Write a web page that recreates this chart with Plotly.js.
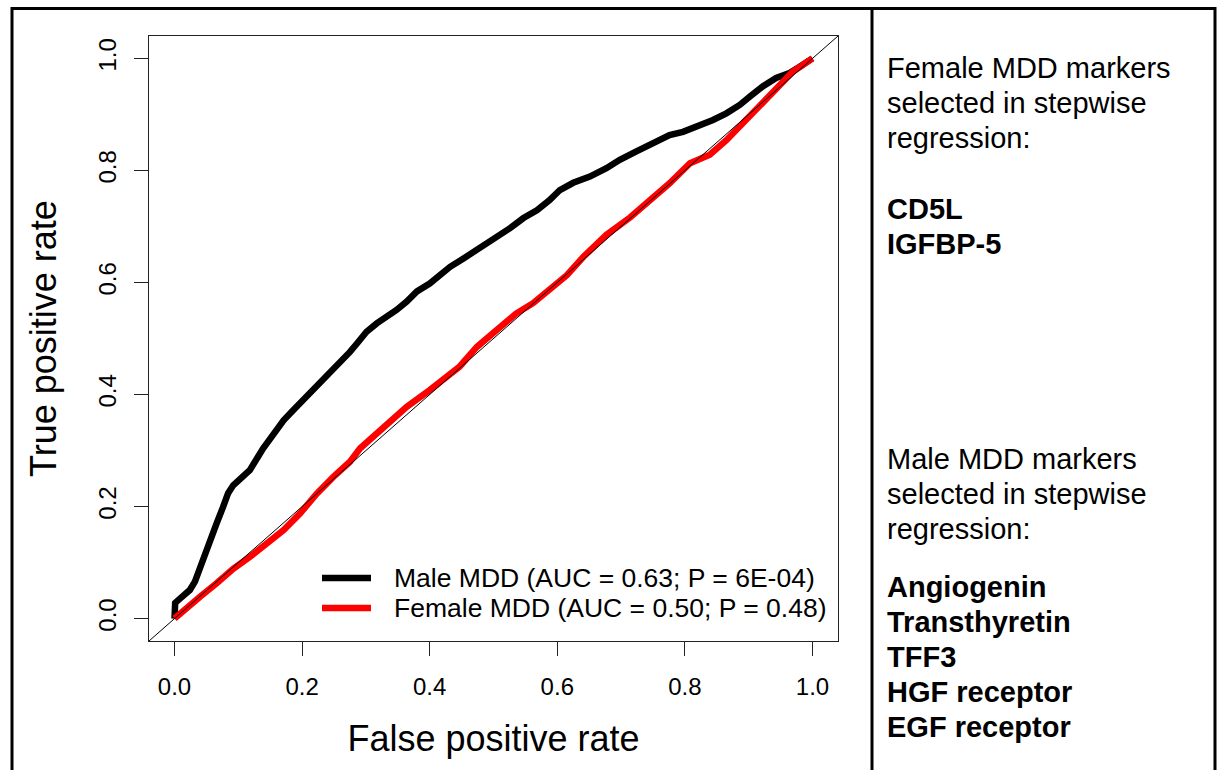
<!DOCTYPE html>
<html>
<head>
<meta charset="utf-8">
<script src="https://cdn.plot.ly/plotly-3.0.1.min.js"></script>
<style>html,body{margin:0;padding:0;background:#fff;}#chart{width:1220px;height:770px;}</style>
</head>
<body>
<div id="chart"></div>
<script>
// ---- data ----
const maleName = "Male MDD (AUC = 0.63; P = 6E-04)";
const femaleName = "Female MDD (AUC = 0.50; P = 0.48)";
const maleFpr = [0, 0, 0.001, 0.009, 0.024, 0.032, 0.040, 0.048, 0.056, 0.066, 0.076, 0.084, 0.092, 0.105, 0.118, 0.139, 0.155, 0.171, 0.186, 0.202, 0.223, 0.244, 0.259, 0.275, 0.286, 0.301, 0.317, 0.333, 0.348, 0.364, 0.380, 0.400, 0.416, 0.432, 0.453, 0.474, 0.500, 0.526, 0.547, 0.568, 0.588, 0.604, 0.625, 0.651, 0.677, 0.698, 0.724, 0.750, 0.776, 0.797, 0.818, 0.844, 0.865, 0.886, 0.902, 0.922, 0.943, 0.964, 0.980, 1.0];
const maleTpr = [0, 0.020, 0.028, 0.036, 0.051, 0.066, 0.092, 0.117, 0.140, 0.170, 0.199, 0.224, 0.238, 0.251, 0.265, 0.304, 0.331, 0.354, 0.372, 0.390, 0.414, 0.441, 0.456, 0.476, 0.491, 0.512, 0.527, 0.539, 0.551, 0.566, 0.584, 0.598, 0.613, 0.628, 0.643, 0.658, 0.679, 0.697, 0.715, 0.729, 0.747, 0.765, 0.778, 0.789, 0.804, 0.819, 0.834, 0.849, 0.863, 0.869, 0.878, 0.890, 0.902, 0.917, 0.932, 0.950, 0.965, 0.974, 0.985, 1.0];
const femaleFpr = [0, 0.014, 0.040, 0.066, 0.092, 0.118, 0.145, 0.171, 0.197, 0.223, 0.249, 0.275, 0.291, 0.327, 0.364, 0.400, 0.432, 0.447, 0.474, 0.510, 0.536, 0.562, 0.588, 0.615, 0.641, 0.677, 0.714, 0.745, 0.776, 0.808, 0.839, 0.865, 0.891, 0.917, 0.943, 0.969, 1.0];
const femaleTpr = [0, 0.015, 0.039, 0.063, 0.089, 0.110, 0.134, 0.158, 0.188, 0.223, 0.253, 0.280, 0.304, 0.342, 0.378, 0.408, 0.435, 0.450, 0.485, 0.521, 0.545, 0.563, 0.587, 0.613, 0.646, 0.685, 0.716, 0.745, 0.777, 0.813, 0.828, 0.854, 0.884, 0.914, 0.944, 0.976, 1.0];
const tickVals = [0, 0.2, 0.4, 0.6, 0.8, 1.0];
const tickText = ["0.0", "0.2", "0.4", "0.6", "0.8", "1.0"];
const femaleHeader = ["Female MDD markers", "selected in stepwise", "regression:"];
const femaleMarkers = ["CD5L", "IGFBP-5"];
const maleHeader = ["Male MDD markers", "selected in stepwise", "regression:"];
const maleMarkers = ["Angiogenin", "Transthyretin", "TFF3", "HGF receptor", "EGF receptor"];

// ---- layout geometry (pixels) ----
const W = 1220, H = 770;
const M = {l: 149, r: 382, t: 36, b: 129};
const PW = W - M.l - M.r, PH = H - M.t - M.b;
const px2x = px => (px - M.l) / PW;
const py2y = py => (H - M.b - py) / PH;
const FONT = "Liberation Sans, Arial, Helvetica, sans-serif";
const LINE_GAP = 35;

const traces = [
  {x: maleFpr, y: maleTpr, type: "scatter", mode: "lines", name: maleName,
   line: {color: "#000000", width: 6.5}, showlegend: false},
  {x: femaleFpr, y: femaleTpr, type: "scatter", mode: "lines", name: femaleName,
   line: {color: "#ff0000", width: 6.5}, showlegend: false}
];

const axisCommon = {
  range: [-0.04, 1.04], showgrid: false, zeroline: false,
  showline: true, mirror: true, linecolor: "#222", linewidth: 1,
  ticks: "outside", ticklen: 14, tickwidth: 1, tickcolor: "#222",
  tickvals: tickVals, ticktext: tickText,
  tickfont: {family: FONT, size: 24, color: "#000"}
};

// text panel on the right: one annotation per line
const textX = px2x(885);
const annotations = [];
function addBlock(lines, firstCenterPx, bold) {
  lines.forEach((t, i) => {
    annotations.push({
      text: bold ? "<b>" + t + "</b>" : t,
      x: textX, y: py2y(firstCenterPx + i * LINE_GAP),
      xref: "paper", yref: "paper", xanchor: "left", yanchor: "middle",
      align: "left", showarrow: false,
      font: {family: FONT, size: 29, color: "#000"}
    });
  });
}
addBlock(femaleHeader, 68, false);
addBlock(femaleMarkers, 209, true);
addBlock(maleHeader, 459, false);
addBlock(maleMarkers, 587, true);

// legend (R-style, bottom right, no box)
const legendItems = [
  {name: maleName, color: traces[0].line.color, yPx: 578},
  {name: femaleName, color: traces[1].line.color, yPx: 608}
];
const shapes = [];
legendItems.forEach(it => {
  annotations.push({
    text: it.name, x: px2x(392), y: py2y(it.yPx),
    xref: "paper", yref: "paper", xanchor: "left", yanchor: "middle",
    showarrow: false, font: {family: FONT, size: 26.5, color: "#000"}
  });
  shapes.push({type: "line", xref: "paper", yref: "paper",
    x0: px2x(322), x1: px2x(371), y0: py2y(it.yPx), y1: py2y(it.yPx),
    line: {color: it.color, width: 6.5}});
});

shapes.push(
  // reference diagonal (abline 0,1) across the whole plotting region
  {type: "line", xref: "paper", yref: "paper", x0: 0, y0: 0, x1: 1, y1: 1,
   line: {color: "#000", width: 1}, layer: "above"},
  // outer frame
  {type: "rect", xref: "paper", yref: "paper",
   x0: px2x(12), x1: px2x(1215), y0: py2y(8.5), y1: py2y(790),
   line: {color: "#000", width: 3}, layer: "above"},
  // divider between plot and text panel
  {type: "line", xref: "paper", yref: "paper",
   x0: px2x(872), x1: px2x(872), y0: py2y(8.5), y1: py2y(790),
   line: {color: "#000", width: 3}, layer: "above"}
);

const layout = {
  width: W, height: H, margin: M,
  paper_bgcolor: "#fff", plot_bgcolor: "#fff",
  font: {family: FONT, color: "#000"},
  xaxis: Object.assign({}, axisCommon, {
    ticklabelstandoff: 10,
    title: {text: "False positive rate", font: {family: FONT, size: 36, color: "#000"}, standoff: 27}
  }),
  yaxis: Object.assign({}, axisCommon, {
    tickangle: -90, ticklabelstandoff: 8,
    title: {text: "True positive rate", font: {family: FONT, size: 36, color: "#000"}, standoff: 26}
  }),
  showlegend: false,
  annotations: annotations,
  shapes: shapes
};

Plotly.newPlot("chart", traces, layout, {staticPlot: true, displayModeBar: false});
</script>
</body>
</html>
